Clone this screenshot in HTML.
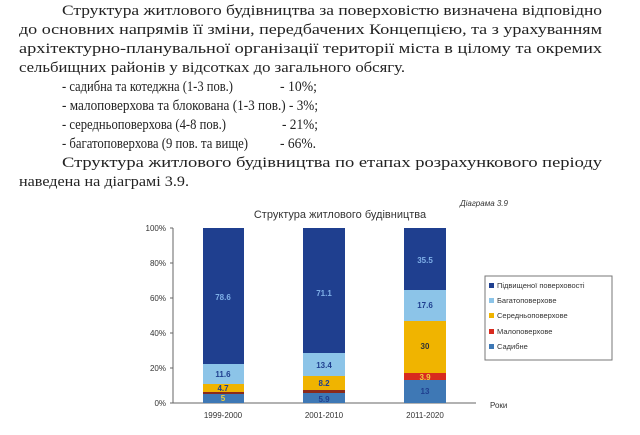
<!DOCTYPE html>
<html><head><meta charset="utf-8"><style>
html,body{margin:0;padding:0;background:#fff;width:640px;height:435px;overflow:hidden}
</style></head><body>
<svg width="640" height="435" xmlns="http://www.w3.org/2000/svg">
<g font-family="Liberation Serif, serif" font-size="15" fill="#222">
<text x="62" y="15" textLength="540" lengthAdjust="spacingAndGlyphs">Структура житлового будівництва за поверховістю визначена відповідно</text>
<text x="19" y="34" textLength="583" lengthAdjust="spacingAndGlyphs">до основних напрямів її зміни, передбачених Концепцією, та з урахуванням</text>
<text x="19" y="53" textLength="583" lengthAdjust="spacingAndGlyphs">архітектурно-планувальної організації території міста в цілому та окремих</text>
<text x="19" y="72" textLength="386" lengthAdjust="spacingAndGlyphs">сельбищних районів у відсотках до загального обсягу.</text>
<text x="62" y="91" textLength="171" lengthAdjust="spacingAndGlyphs">- садибна та котеджна (1-3 пов.)</text>
<text x="280" y="91" textLength="37" lengthAdjust="spacingAndGlyphs">- 10%;</text>
<text x="62" y="110" textLength="256" lengthAdjust="spacingAndGlyphs">- малоповерхова та блокована (1-3 пов.) -   3%;</text>
<text x="62" y="129" textLength="164" lengthAdjust="spacingAndGlyphs">- середньоповерхова (4-8 пов.)</text>
<text x="282" y="129" textLength="36" lengthAdjust="spacingAndGlyphs">- 21%;</text>
<text x="62" y="148" textLength="186" lengthAdjust="spacingAndGlyphs">- багатоповерхова (9 пов. та вище)</text>
<text x="280" y="148" textLength="36" lengthAdjust="spacingAndGlyphs">- 66%.</text>
<text x="62" y="167" textLength="540" lengthAdjust="spacingAndGlyphs">Структура житлового будівництва по етапах розрахункового періоду</text>
<text x="19" y="186" textLength="170" lengthAdjust="spacingAndGlyphs">наведена на діаграмі 3.9.</text>
</g>
<g font-family="Liberation Sans, sans-serif" fill="#333">
<text x="460" y="206" font-size="8" font-style="italic">Діаграма 3.9</text>
<text x="340" y="218" font-size="11" text-anchor="middle">Структура житлового будівництва</text>
<g font-size="8" text-anchor="end">
<text x="166" y="231">100%</text><text x="166" y="266">80%</text><text x="166" y="301">60%</text>
<text x="166" y="336">40%</text><text x="166" y="371">20%</text><text x="166" y="406">0%</text>
</g>
<g font-size="8" text-anchor="middle">
<text x="223" y="418">1999-2000</text><text x="324" y="418">2001-2010</text><text x="425" y="418">2011-2020</text>
</g>
<text x="490" y="408" font-size="8">Роки</text>
</g>
<g stroke="#666" stroke-width="1">
<line x1="173" y1="228" x2="173" y2="403"/><line x1="173" y1="403" x2="476" y2="403"/>
<line x1="170" y1="228" x2="173" y2="228"/><line x1="170" y1="263" x2="173" y2="263"/>
<line x1="170" y1="298" x2="173" y2="298"/><line x1="170" y1="333" x2="173" y2="333"/>
<line x1="170" y1="368" x2="173" y2="368"/><line x1="170" y1="403" x2="173" y2="403"/>
</g>
<rect x="203" y="394" width="41" height="9" fill="#3e78b5"/>
<rect x="203" y="392" width="41" height="2" fill="#8b2a1a"/>
<rect x="203" y="384" width="41" height="8" fill="#f0b400"/>
<rect x="203" y="364" width="41" height="20" fill="#8cc4e8"/>
<rect x="203" y="228" width="41" height="136" fill="#1f3f8f"/>
<rect x="303" y="393" width="42" height="10" fill="#3e78b5"/>
<rect x="303" y="390" width="42" height="3" fill="#8b2a1a"/>
<rect x="303" y="376" width="42" height="14" fill="#f0b400"/>
<rect x="303" y="353" width="42" height="23" fill="#8cc4e8"/>
<rect x="303" y="228" width="42" height="125" fill="#1f3f8f"/>
<rect x="404" y="380" width="42" height="23" fill="#3e78b5"/>
<rect x="404" y="373" width="42" height="7" fill="#d82a1e"/>
<rect x="404" y="321" width="42" height="52" fill="#f0b400"/>
<rect x="404" y="290" width="42" height="31" fill="#8cc4e8"/>
<rect x="404" y="228" width="42" height="62" fill="#1f3f8f"/>
<g font-family="Liberation Sans, sans-serif" font-size="8" font-weight="bold" text-anchor="middle">
<text x="223" y="300" fill="#7fb0e8">78.6</text>
<text x="223" y="377" fill="#1f3f8f">11.6</text>
<text x="223" y="391" fill="#1f3f8f">4.7</text>
<text x="223" y="401" fill="#f0d040">5</text>
<text x="324" y="296" fill="#7fb0e8">71.1</text>
<text x="324" y="368" fill="#1f3f8f">13.4</text>
<text x="324" y="386" fill="#1f3f8f">8.2</text>
<text x="324" y="402" fill="#1f3f8f">5.9</text>
<text x="425" y="263" fill="#7fb0e8">35.5</text>
<text x="425" y="308" fill="#1f3f8f">17.6</text>
<text x="425" y="349" fill="#333">30</text>
<text x="425" y="380" fill="#f0d040">3.9</text>
<text x="425" y="394" fill="#1f3f8f">13</text>
</g>
<rect x="485" y="276" width="127" height="84" fill="#fff" stroke="#777"/>
<g font-family="Liberation Sans, sans-serif" font-size="7.5" fill="#333">
<rect x="489" y="283" width="5" height="5" fill="#1f3f8f"/><text x="497" y="288">Підвищеної поверховості</text>
<rect x="489" y="298" width="5" height="5" fill="#8cc4e8"/><text x="497" y="303">Багатоповерхове</text>
<rect x="489" y="313" width="5" height="5" fill="#f0b400"/><text x="497" y="318">Середньоповерхове</text>
<rect x="489" y="329" width="5" height="5" fill="#d82a1e"/><text x="497" y="334">Малоповерхове</text>
<rect x="489" y="344" width="5" height="5" fill="#3e78b5"/><text x="497" y="349">Садибне</text>
</g>
</svg>
</body></html>
